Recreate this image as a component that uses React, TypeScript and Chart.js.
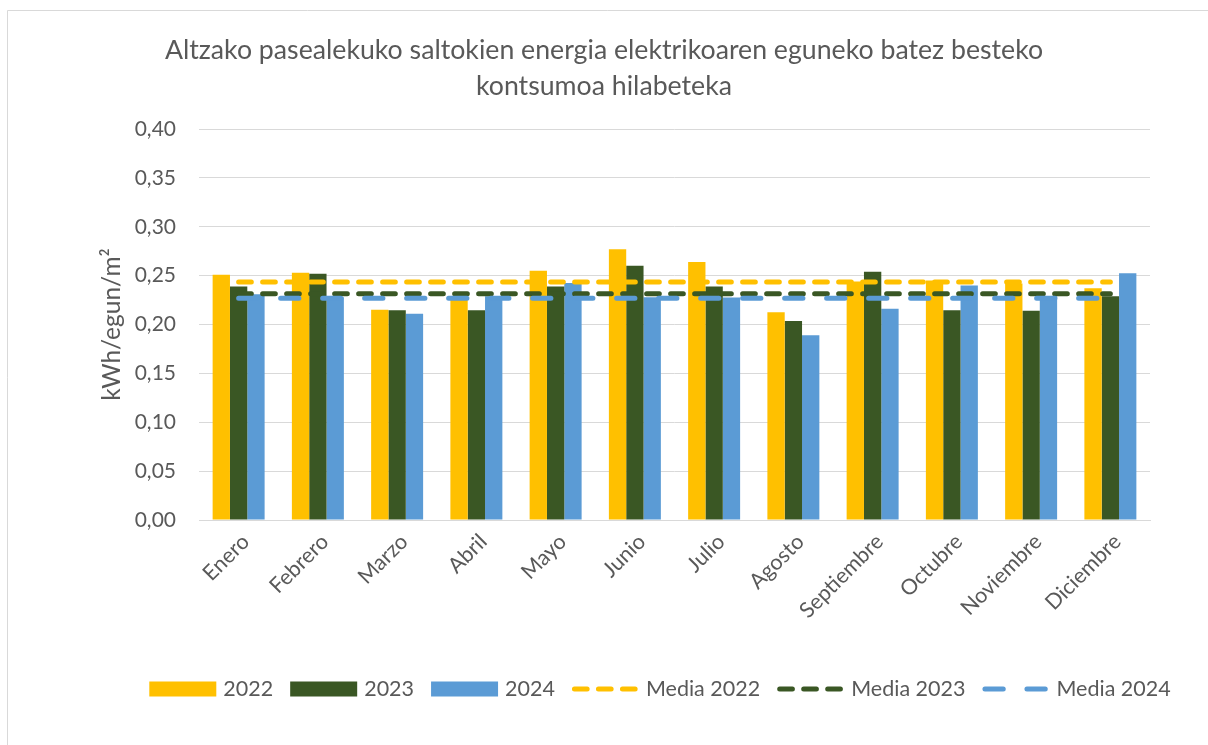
import React, { useEffect, useRef } from "react";
import { Chart, registerables } from "chart.js";

Chart.register(...registerables);

const TITLE_LINES = [
  "Altzako pasealekuko saltokien energia elektrikoaren eguneko batez besteko",
  "kontsumoa hilabeteka",
];
const Y_TITLE = "kWh/egun/m²";

const MONTHS = [
  "Enero",
  "Febrero",
  "Marzo",
  "Abril",
  "Mayo",
  "Junio",
  "Julio",
  "Agosto",
  "Septiembre",
  "Octubre",
  "Noviembre",
  "Diciembre",
];

const V2022 = [0.251, 0.253, 0.215, 0.228, 0.255, 0.277, 0.264, 0.2125, 0.244, 0.245, 0.242, 0.237];
const V2023 = [0.239, 0.252, 0.2145, 0.2145, 0.239, 0.26, 0.239, 0.2035, 0.254, 0.2145, 0.214, 0.229];
const V2024 = [0.231, 0.228, 0.211, 0.229, 0.2425, 0.228, 0.2275, 0.189, 0.216, 0.24, 0.229, 0.2525];

const MEDIA_2022 = [0.2435, 0.2435, 0.2435, 0.2435, 0.2435, 0.2435, 0.2435, 0.2435, 0.2435, 0.2435, 0.2435, 0.2435];
const MEDIA_2023 = [0.2315, 0.2315, 0.2315, 0.2315, 0.2315, 0.2315, 0.2315, 0.2315, 0.2315, 0.2315, 0.2315, 0.2315];
const MEDIA_2024 = [0.2268, 0.2268, 0.2268, 0.2268, 0.2268, 0.2268, 0.2268, 0.2268, 0.2268, 0.2268, 0.2268, 0.2268];

const Y_MIN = 0;
const Y_MAX = 0.4;
const Y_STEP = 0.05;

const YELLOW = "#FFC000";
const GREEN = "#3A5724";
const BLUE = "#5B9BD5";
const TEXT = "#595959";
const GRID = "#D9D9D9";
const FONT = "Lato, 'Open Sans', sans-serif";

const SHORT_DASH = [12.7, 11.3];
const LONG_DASH = [18.3, 23.7];

const framePlugin = {
  id: "frame",
  beforeDraw(chart: any) {
    const ctx = chart.ctx;
    ctx.save();
    ctx.fillStyle = "#FFFFFF";
    ctx.fillRect(0, 0, chart.width, chart.height);
    ctx.strokeStyle = GRID;
    ctx.lineWidth = 1;
    ctx.beginPath();
    ctx.moveTo(7.5, chart.height);
    ctx.lineTo(7.5, 10.5);
    ctx.lineTo(chart.width, 10.5);
    ctx.stroke();
    ctx.restore();
  },
};

const legendPlugin = {
  id: "customLegend",
  afterDraw(chart: any) {
    const ctx = chart.ctx;
    const sample = 67;
    const textGap = 7;
    const itemGap = 17;
    const yMid = 689;
    ctx.save();
    ctx.font = `21.5px ${FONT}`;
    const items = chart.data.datasets.map((d: any) => ({
      label: d.label,
      type: d.type,
      color: d.type === "line" ? d.borderColor : d.backgroundColor,
      dash: d.borderDash || [],
      w: ctx.measureText(d.label).width,
    }));
    let total = 0;
    items.forEach((it: any, i: number) => {
      total += sample + textGap + it.w + (i < items.length - 1 ? itemGap : 0);
    });
    let x = 660 - total / 2;
    items.forEach((it: any) => {
      if (it.type === "line") {
        ctx.strokeStyle = it.color;
        ctx.lineWidth = 5;
        ctx.lineCap = "round";
        ctx.setLineDash(it.dash);
        ctx.beginPath();
        ctx.moveTo(x + 2.5, yMid);
        ctx.lineTo(x + sample - 2.5, yMid);
        ctx.stroke();
        ctx.setLineDash([]);
      } else {
        ctx.fillStyle = it.color;
        ctx.fillRect(x, yMid - 7.5, sample, 15);
      }
      ctx.fillStyle = TEXT;
      ctx.textAlign = "left";
      ctx.textBaseline = "middle";
      ctx.fillText(it.label, x + sample + textGap, yMid);
      x += sample + textGap + it.w + itemGap;
    });
    ctx.restore();
  },
};

export default function App() {
  const ref = useRef<HTMLCanvasElement | null>(null);

  useEffect(() => {
    if (!ref.current) return;
    const chart = new Chart(ref.current, {
      type: "bar",
      data: {
        labels: MONTHS,
        datasets: [
          { type: "bar", label: "2022", data: V2022, backgroundColor: YELLOW, order: 10 },
          { type: "bar", label: "2023", data: V2023, backgroundColor: GREEN, order: 10 },
          { type: "bar", label: "2024", data: V2024, backgroundColor: BLUE, order: 10 },
          {
            type: "line",
            label: "Media 2022",
            data: MEDIA_2022,
            borderColor: YELLOW,
            backgroundColor: YELLOW,
            borderWidth: 5,
            borderDash: SHORT_DASH,
            borderCapStyle: "round",
            pointRadius: 0,
            fill: false,
            order: 3,
          },
          {
            type: "line",
            label: "Media 2023",
            data: MEDIA_2023,
            borderColor: GREEN,
            backgroundColor: GREEN,
            borderWidth: 5,
            borderDash: SHORT_DASH,
            borderCapStyle: "round",
            pointRadius: 0,
            fill: false,
            order: 2,
          },
          {
            type: "line",
            label: "Media 2024",
            data: MEDIA_2024,
            borderColor: BLUE,
            backgroundColor: BLUE,
            borderWidth: 5,
            borderDash: LONG_DASH,
            borderCapStyle: "round",
            pointRadius: 0,
            fill: false,
            order: 1,
          },
        ] as any,
      },
      options: {
        animation: false,
        responsive: false,
        layout: { padding: { left: 0, right: 0, top: 0, bottom: 0 } },
        datasets: {
          bar: { categoryPercentage: 0.656, barPercentage: 1 },
        },
        plugins: {
          legend: { display: false },
          tooltip: { enabled: false },
          title: {
            display: true,
            text: TITLE_LINES,
            color: TEXT,
            font: { family: FONT, size: 26.7, weight: "normal", lineHeight: 36 / 26.7 },
            padding: { top: 32, bottom: 25 },
          },
        },
        scales: {
          x: {
            offset: true,
            grid: { display: false, drawTicks: false },
            border: { display: true, color: GRID, width: 1 },
            ticks: {
              color: TEXT,
              font: { family: FONT, size: 21.5 },
              maxRotation: 45,
              minRotation: 45,
              autoSkip: false,
              padding: 9,
              labelOffset: 7,
            },
            afterFit: (s: any) => {
              s.height = 225;
            },
          },
          y: {
            min: Y_MIN,
            max: Y_MAX,
            ticks: {
              stepSize: Y_STEP,
              color: TEXT,
              font: { family: FONT, size: 21 },
              padding: 23,
              callback: (v: any) => Number(v).toFixed(2).replace(".", ","),
            },
            grid: { color: GRID, drawTicks: false, lineWidth: 1 },
            border: { display: false },
            title: {
              display: true,
              text: Y_TITLE,
              color: TEXT,
              font: { family: FONT, size: 24.5 },
              padding: { top: 97, bottom: 0 },
            },
            afterFit: (s: any) => {
              s.width = 199;
            },
          },
          yRight: {
            type: "linear",
            position: "right",
            display: true,
            min: Y_MIN,
            max: Y_MAX,
            grid: { display: false, drawTicks: false },
            border: { display: false },
            ticks: { display: false },
            afterFit: (s: any) => {
              s.width = 58;
            },
          },
        },
      } as any,
      plugins: [framePlugin, legendPlugin],
    });
    return () => chart.destroy();
  }, []);

  return (
    <div style={{ position: "absolute", left: 0, top: 0, width: 1208, height: 745 }}>
      <canvas ref={ref} width={1208} height={745} style={{ display: "block", width: 1208, height: 745 }} />
    </div>
  );
}
